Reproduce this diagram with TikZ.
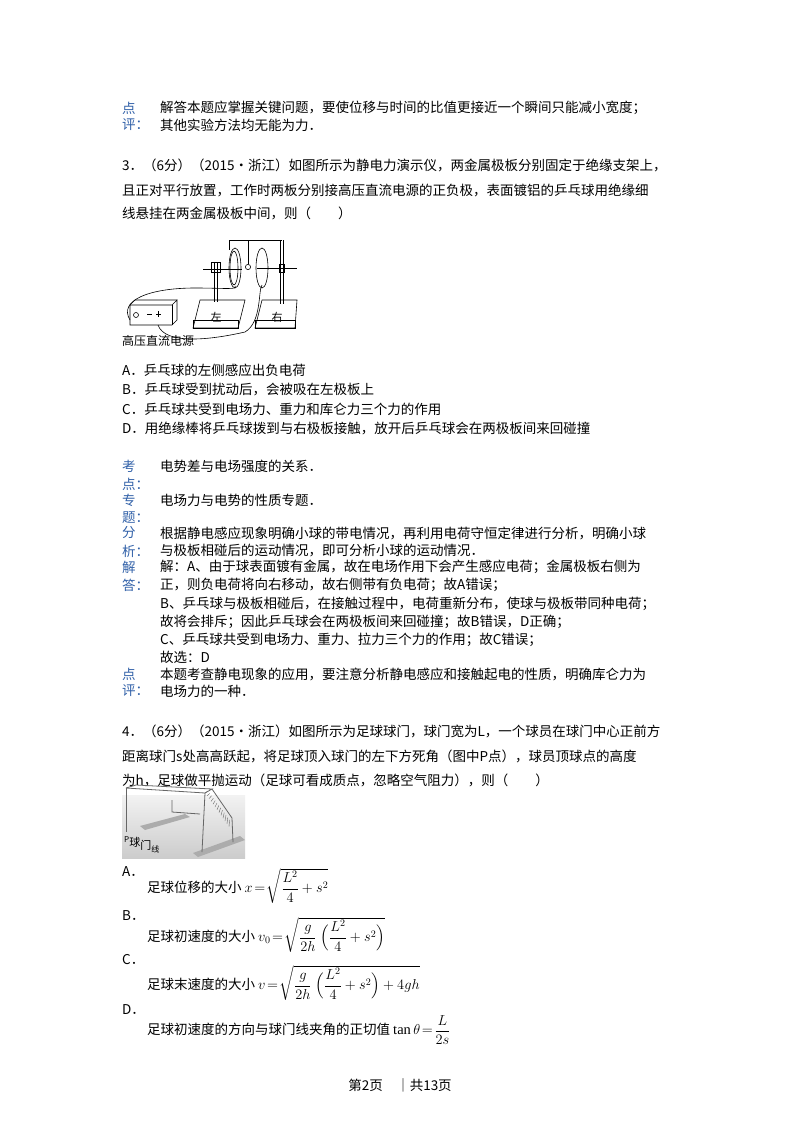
\documentclass[tikz,border=0pt]{standalone}
\usepackage{amsmath}
\usepackage{fontspec}
\setmainfont{Liberation Serif}
\newfontfamily\cjk{Noto Sans CJK SC}
\usetikzlibrary{shadings}
\definecolor{lab}{HTML}{3060A8}
\newcommand{\mth}[1]{{\fontsize{14.5}{16}\selectfont$#1$}}
\begin{document}
\begin{tikzpicture}[x=1pt,y=-1pt,
  t/.style={anchor=west,inner sep=0pt,font=\cjk\fontsize{13.5}{14}\selectfont},
  lb/.style={t,text=lab}]
\useasboundingbox (0,0) rectangle (800,1132);
\fill[white] (0,0) rectangle (800,1132);
% block 1
\node[lb] (p1) at (122,108) {点};
\node[lb] (p2) at (122,125) {评：};
\node[t] (p3) at (160,108) {解答本题应掌握关键问题，要使位移与时间的比值更接近一个瞬间只能减小宽度；};
\node[t] (p4) at (160,125) {其他实验方法均无能为力．};
% Q3
\node[t] (q1) at (122,165) {3．（6分）（2015•浙江）如图所示为静电力演示仪，两金属极板分别固定于绝缘支架上，};
\node[t] (q2) at (122,190) {且正对平行放置，工作时两板分别接高压直流电源的正负极，表面镀铝的乒乓球用绝缘细};
\node[t] (q3) at (122,213) {线悬挂在两金属极板中间，则（　　）};
% figure 1
\begin{scope}[line width=0.6pt]
\draw (130,305) -- (172,305) -- (177,300) -- (177,320) -- (172,325) -- (130,325) -- cycle;
\draw (130,305) -- (135,300) -- (177,300);
\draw (172,305) -- (172,325);
\draw (136,315) circle (2.5);
\draw (147,314) -- (152,314) (156,314) -- (161,314) (158,311) -- (158,317);
\draw (200,300) -- (245,300) -- (238,328) -- (193,328) -- cycle;
\node[font=\cjk\fontsize{11}{12}\selectfont,inner sep=0pt] (zuo) at (216,317) {左};
\draw (193,320) rectangle (238,328);
\draw (262,300) -- (297,300) -- (295,328) -- (255,328) -- cycle;
\node[font=\cjk\fontsize{11}{12}\selectfont,inner sep=0pt] (you) at (277,317) {右};
\draw (255,320) rectangle (295,328);
\draw (214,262) -- (214,302) (217,262) -- (217,302);
\draw (203,269) -- (242,269);
\draw (211,262) rectangle (220,272);
\draw (235,268) ellipse (6 and 20);
\draw (234,268) ellipse (4 and 17);
\draw (262,268) ellipse (6 and 20);
\draw (248,240) -- (248,264);
\draw (248,267) circle (2.6);
\draw (280,240) -- (280,304) (283,240) -- (283,304);
\draw (257,268) -- (297,268);
\draw (279,264) rectangle (284,272);
\draw (229,240) -- (229,250) (229,240) -- (282,240);
\draw (130,320) .. controls (118,300) and (150,288) .. (195,288) .. controls (225,288) and (238,290) .. (235,286);
\draw (158,325) .. controls (165,345) and (210,340) .. (245,332) .. controls (262,322) and (258,290) .. (262,285);
\end{scope}
\node[anchor=west,inner sep=0pt,font=\cjk\fontsize{12}{13}\selectfont] (src) at (122,341) {高压直流电源};
% options
\node[t] (a3) at (122,370) {A．乒乓球的左侧感应出负电荷};
\node[t] (b3) at (122,390) {B．乒乓球受到扰动后，会被吸在左极板上};
\node[t] (c3) at (122,409) {C．乒乓球共受到电场力、重力和库仑力三个力的作用};
\node[t] (d3) at (122,428) {D．用绝缘棒将乒乓球拨到与右极板接触，放开后乒乓球会在两极板间来回碰撞};
% analysis
\node[lb] at (122,466) {考}; \node[lb] at (122,484) {点：};
\node[t] at (160,466) {电势差与电场强度的关系．};
\node[lb] at (122,500) {专}; \node[lb] at (122,518) {题：};
\node[t] at (160,500) {电场力与电势的性质专题．};
\node[lb] at (122,533) {分}; \node[lb] at (122,551) {析：};
\node[t] at (160,533) {根据静电感应现象明确小球的带电情况，再利用电荷守恒定律进行分析，明确小球};
\node[t] at (160,551) {与极板相碰后的运动情况，即可分析小球的运动情况．};
\node[lb] at (122,567) {解}; \node[lb] at (122,585) {答：};
\node[t] at (160,567) {解：A、由于球表面镀有金属，故在电场作用下会产生感应电荷；金属极板右侧为};
\node[t] at (160,585) {正，则负电荷将向右移动，故右侧带有负电荷；故A错误；};
\node[t] at (160,604) {B、乒乓球与极板相碰后，在接触过程中，电荷重新分布，使球与极板带同种电荷；};
\node[t] at (160,622) {故将会排斥；因此乒乓球会在两极板间来回碰撞；故B错误，D正确；};
\node[t] at (160,640) {C、乒乓球共受到电场力、重力、拉力三个力的作用；故C错误；};
\node[t] at (160,657) {故选：D};
\node[lb] at (122,674) {点}; \node[lb] at (122,691) {评：};
\node[t] at (160,674) {本题考查静电现象的应用，要注意分析静电感应和接触起电的性质，明确库仑力为};
\node[t] at (160,691) {电场力的一种．};
% Q4
\node[t] at (122,731) {4．（6分）（2015•浙江）如图所示为足球球门，球门宽为L，一个球员在球门中心正前方};
\node[t] at (122,756) {距离球门s处高高跃起，将足球顶入球门的左下方死角（图中P点），球员顶球点的高度};
\node[t] at (122,780) {为h，足球做平抛运动（足球可看成质点，忽略空气阻力），则（　　）};
% figure 2
\shade[top color=gray!10,bottom color=gray!40] (122,795) rectangle (245,858);
\fill[gray!65] (140,826) -- (185,814) -- (190,817) -- (145,830) -- cycle;
\fill[gray!65] (193,853) -- (240,836) -- (245,840) -- (198,857) -- cycle;
\begin{scope}[line width=0.8pt,draw=gray!80!black]
\draw (126,788) -- (126,832);
\draw (126,788) -- (205,793) -- (202,852);
\draw (126,788) -- (136,785) -- (212,789) -- (205,793);
\draw (212,789) -- (232,818) -- (233,842);
\draw (172,800) -- (172,812) -- (200,814);
\foreach \i in {0,...,12} \draw[thin] (208+\i*1.8,791+\i*2.4) -- (205+\i*2.0,793+\i*2.8);
\end{scope}
\node[anchor=west,inner sep=0pt,font=\cjk\fontsize{11}{12}\selectfont] (goal) at (124,845) {\raisebox{4pt}{\fontsize{8}{8}\selectfont\itshape P}球\raisebox{-3pt}{门}\raisebox{-6pt}{\fontsize{8}{8}\selectfont 线}};
% options
\node[t] at (122,872) {A．};
\node[t] at (147,886) {足球位移的大小 \mth{x\!=\!\sqrt{\dfrac{L^2}{4}+s^2}}};
\node[t] at (122,916) {B．};
\node[t] at (147,935) {足球初速度的大小 \mth{v_0\!=\!\sqrt{\dfrac{g}{2h}\;\Big(\dfrac{L^2}{4}+s^2\Big)}}};
\node[t] at (122,960) {C．};
\node[t] at (147,983) {足球末速度的大小 \mth{v\!=\!\sqrt{\dfrac{g}{2h}\;\Big(\dfrac{L^2}{4}+s^2\Big)+4gh}}};
\node[t] at (122,1010) {D．};
\node[t] at (147,1030) {足球初速度的方向与球门线夹角的正切值 \mth{\tan\theta\!=\!\dfrac{L}{2s}}};
\node[t,anchor=center] at (400,1085) {第2页　｜共13页};
\end{tikzpicture}
\end{document}
